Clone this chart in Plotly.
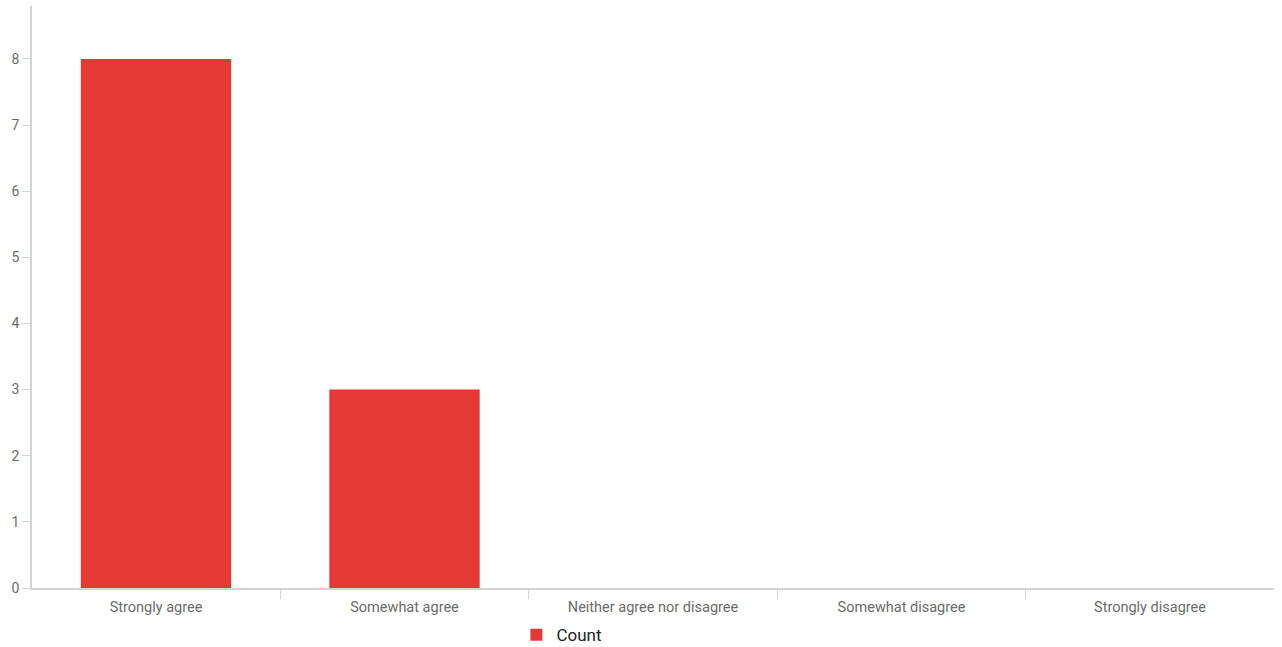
import plotly.graph_objects as go

categories = ["Strongly agree", "Somewhat agree", "Neither agree nor disagree",
              "Somewhat disagree", "Strongly disagree"]
counts = [8, 3, 0, 0, 0]
y_ticks = [0, 1, 2, 3, 4, 5, 6, 7, 8]

fig = go.Figure()
fig.add_trace(go.Bar(x=categories, y=counts, name="Count",
                     marker=dict(color="#E53935", line=dict(width=0)),
                     showlegend=True))

fig.update_layout(
    width=1282, height=647,
    margin=dict(l=32, r=8, t=6, b=59, autoexpand=False),
    plot_bgcolor="white", paper_bgcolor="white",
    bargap=0.395,
    font=dict(family="Roboto", size=14, color="#6b6b6b"),
    showlegend=True,
    legend=dict(orientation="h", x=0.39, xanchor="left", y=-0.05, yanchor="top",
                font=dict(size=17, color="#222222"), itemwidth=30),
    xaxis=dict(showline=True, linecolor="#d3d3d3", linewidth=1.5, automargin=False,
               range=[-0.499, len(categories) - 0.501],
               ticks="outside", tickson="boundaries", ticklen=9, tickcolor="#d3d3d3",
               ticklabelstandoff=5,
               showgrid=False, tickfont=dict(size=14.5, color="#6b6b6b")),
    yaxis=dict(range=[0, 8.8], tickvals=y_ticks, showline=True, linecolor="#d3d3d3",
               linewidth=1.5, ticks="outside", ticklen=8, tickcolor="#d3d3d3",
               automargin=False,
               showgrid=False, zeroline=False, tickfont=dict(size=14, color="#6b6b6b")),
)

fig.write_html("out.html", config={"displayModeBar": False},
               post_script="document.body.style.margin='0';document.body.style.overflow='hidden';")
